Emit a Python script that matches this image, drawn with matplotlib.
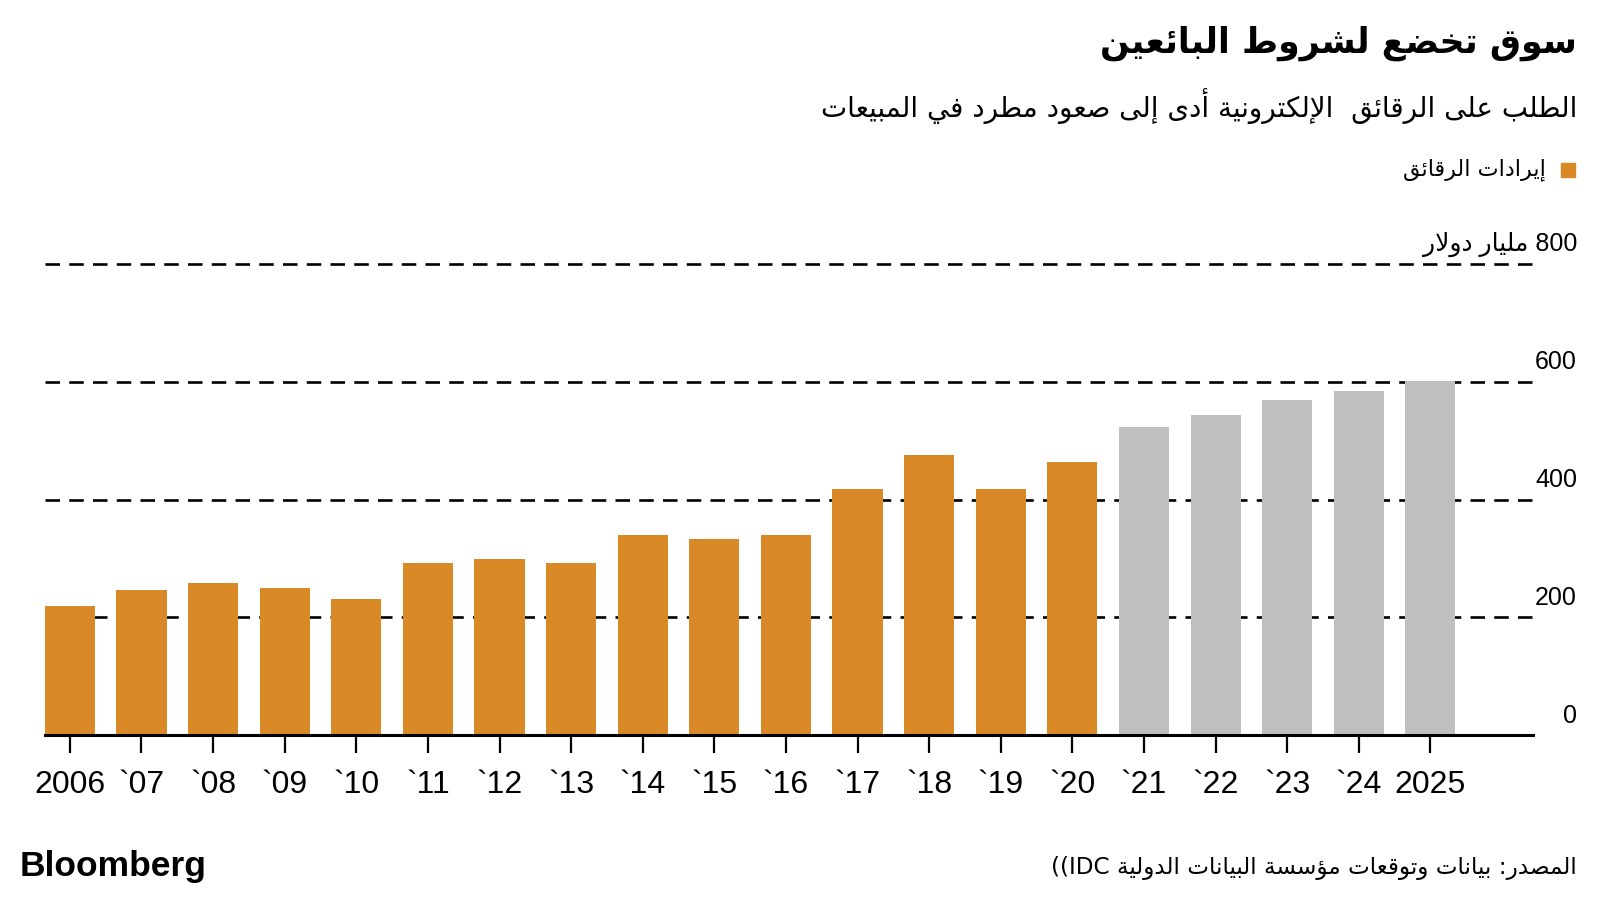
import matplotlib
matplotlib.use('Agg')
import matplotlib.pyplot as plt
import matplotlib.transforms as mtransforms
from matplotlib.patches import Rectangle

# data (billion dollars)
years = ['2006', '`07', '`08', '`09', '`10', '`11', '`12', '`13', '`14', '`15',
         '`16', '`17', '`18', '`19', '`20', '`21', '`22', '`23', '`24', '2025']
revenue = [219, 247, 259, 250, 231, 292, 299, 292, 339, 333,
           339, 418, 476, 418, 464, 524, 543, 569, 585, 601]
forecast_from = 15  # bars from `21 on are forecasts (grey)
yticks = [0, 200, 400, 600, 800]

title = 'سوق تخضع لشروط البائعين'
subtitle = 'الطلب على الرقائق  الإلكترونية أدى إلى صعود مطرد في المبيعات'
legend_label = 'إيرادات الرقائق'
unit_label = 'مليار دولار'
source = 'المصدر: بيانات وتوقعات مؤسسة البيانات الدولية'

ORANGE = '#D98A26'
GREY = '#BFBFBF'

# --- tiny arabic shaper (no arabic_reshaper / bidi available) ---
# isolated, final, initial, medial
FORMS = {
    'ا': (0xFE8D, 0xFE8E, None, None), 'أ': (0xFE83, 0xFE84, None, None),
    'إ': (0xFE87, 0xFE88, None, None), 'آ': (0xFE81, 0xFE82, None, None),
    'ؤ': (0xFE85, 0xFE86, None, None), 'ئ': (0xFE89, 0xFE8A, 0xFE8B, 0xFE8C),
    'ب': (0xFE8F, 0xFE90, 0xFE91, 0xFE92), 'ة': (0xFE93, 0xFE94, None, None),
    'ت': (0xFE95, 0xFE96, 0xFE97, 0xFE98), 'ث': (0xFE99, 0xFE9A, 0xFE9B, 0xFE9C),
    'ج': (0xFE9D, 0xFE9E, 0xFE9F, 0xFEA0), 'ح': (0xFEA1, 0xFEA2, 0xFEA3, 0xFEA4),
    'خ': (0xFEA5, 0xFEA6, 0xFEA7, 0xFEA8), 'د': (0xFEA9, 0xFEAA, None, None),
    'ذ': (0xFEAB, 0xFEAC, None, None), 'ر': (0xFEAD, 0xFEAE, None, None),
    'ز': (0xFEAF, 0xFEB0, None, None), 'س': (0xFEB1, 0xFEB2, 0xFEB3, 0xFEB4),
    'ش': (0xFEB5, 0xFEB6, 0xFEB7, 0xFEB8), 'ص': (0xFEB9, 0xFEBA, 0xFEBB, 0xFEBC),
    'ض': (0xFEBD, 0xFEBE, 0xFEBF, 0xFEC0), 'ط': (0xFEC1, 0xFEC2, 0xFEC3, 0xFEC4),
    'ظ': (0xFEC5, 0xFEC6, 0xFEC7, 0xFEC8), 'ع': (0xFEC9, 0xFECA, 0xFECB, 0xFECC),
    'غ': (0xFECD, 0xFECE, 0xFECF, 0xFED0), 'ف': (0xFED1, 0xFED2, 0xFED3, 0xFED4),
    'ق': (0xFED5, 0xFED6, 0xFED7, 0xFED8), 'ك': (0xFED9, 0xFEDA, 0xFEDB, 0xFEDC),
    'ل': (0xFEDD, 0xFEDE, 0xFEDF, 0xFEE0), 'م': (0xFEE1, 0xFEE2, 0xFEE3, 0xFEE4),
    'ن': (0xFEE5, 0xFEE6, 0xFEE7, 0xFEE8), 'ه': (0xFEE9, 0xFEEA, 0xFEEB, 0xFEEC),
    'و': (0xFEED, 0xFEEE, None, None), 'ى': (0xFEEF, 0xFEF0, None, None),
    'ي': (0xFEF1, 0xFEF2, 0xFEF3, 0xFEF4),
}
LAM_ALEF = {'آ': (0xFEF5, 0xFEF6), 'أ': (0xFEF7, 0xFEF8),
            'إ': (0xFEF9, 0xFEFA), 'ا': (0xFEFB, 0xFEFC)}


def joins_left(c):
    return c in FORMS and FORMS[c][2] is not None


def ar(text):
    out = []
    i = 0
    n = len(text)
    while i < n:
        c = text[i]
        if c not in FORMS:
            out.append(c)
            i += 1
            continue
        prev_join = i > 0 and joins_left(text[i - 1])
        if c == 'ل' and i + 1 < n and text[i + 1] in LAM_ALEF:
            iso, fin = LAM_ALEF[text[i + 1]]
            out.append(chr(fin if prev_join else iso))
            i += 2
            continue
        next_join = joins_left(c) and i + 1 < n and text[i + 1] in FORMS
        iso, fin, ini, med = FORMS[c]
        if prev_join and next_join:
            g = med
        elif prev_join:
            g = fin
        elif next_join:
            g = ini
        else:
            g = iso
        out.append(chr(g))
        i += 1
    return ''.join(out)[::-1]


plt.rcParams['font.family'] = ['DejaVu Sans']

fig = plt.figure(figsize=(16, 9), dpi=100)
ax = fig.add_axes([0.028, 0.1833, 0.93, 0.5364])

x = list(range(len(years)))
colors = [ORANGE if i < forecast_from else GREY for i in x]
ax.bar(x, revenue, width=0.7, color=colors, zorder=2)

ax.set_xlim(-0.35, 20.43)
ax.set_ylim(0, 820)

for v in yticks[1:]:
    ax.axhline(v, color='black', lw=1.9, ls=(0, (5.5, 3.5)), zorder=1)

for s in ['top', 'right', 'left']:
    ax.spines[s].set_visible(False)
ax.spines['bottom'].set_linewidth(2.2)
ax.spines['bottom'].set_zorder(3)
ax.set_yticks([])
ax.set_xticks(x)
ax.set_xticklabels(years, fontsize=23, family=['Liberation Sans', 'DejaVu Sans'])
ax.tick_params(axis='x', length=13, width=1.6, pad=12)

# y labels sit above their gridlines at the right edge
trans = mtransforms.blended_transform_factory(fig.transFigure, ax.transData)
for v in yticks:
    lab = str(v)
    if v == yticks[-1]:
        lab = ar(unit_label) + ' ' + lab
    ax.annotate(lab, xy=(0.9856, v), xycoords=trans, xytext=(0, 14),
                textcoords='offset points', ha='right', va='center',
                fontsize=18, family=['Liberation Sans', 'DejaVu Sans'])

# titles
fig.text(0.9856, 0.952, ar(title), ha='right', va='center', fontsize=25,
         fontweight='bold')
fig.text(0.9856, 0.882, ar(subtitle), ha='right', va='center', fontsize=20)

# legend
fig.patches.append(Rectangle((0.9758, 0.803), 0.0088, 0.0156,
                             transform=fig.transFigure, color=ORANGE))
fig.text(0.966, 0.811, ar(legend_label), ha='right', va='center', fontsize=16)

# footer
fig.text(0.0125, 0.037, 'Bloomberg', ha='left', va='center', fontsize=25.5,
         fontweight='bold', family=['Liberation Sans', 'DejaVu Sans'])
fig.text(0.9856, 0.035, '((IDC ' + ar(source), ha='right', va='center',
         fontsize=16.7)

fig.savefig('out.png', dpi=100, facecolor='white')
